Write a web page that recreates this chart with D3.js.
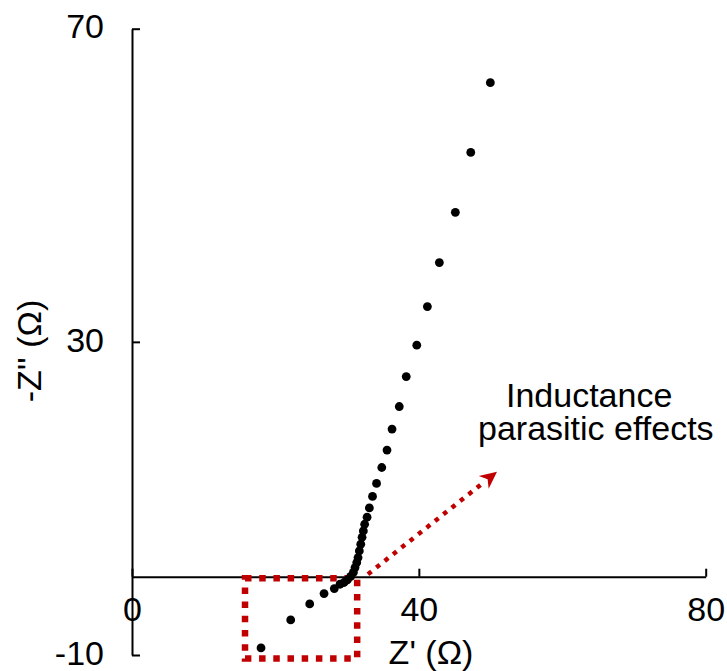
<!DOCTYPE html>
<html>
<head>
<meta charset="utf-8">
<script src="https://cdn.jsdelivr.net/npm/d3@7/dist/d3.min.js"></script>
<style>
  html, body { margin: 0; padding: 0; background: #fff; }
  svg { display: block; }
  text { font-family: "Liberation Sans", Arial, Helvetica, sans-serif; fill: #000; }
</style>
</head>
<body>
<svg id="chart" width="727" height="671"></svg>
<script>
// Nyquist plot: real part Z' vs negative imaginary part -Z''
const zReal = [17.99, 22.13, 24.78, 26.78, 28.21, 29.01, 29.57, 30.03, 30.50, 30.87,
               31.10, 31.34, 31.52, 31.70, 31.90, 32.08, 32.26, 32.44, 32.78, 33.10,
               33.54, 34.10, 34.83, 35.56, 36.26, 37.27, 38.24, 39.71, 41.19, 42.86,
               45.09, 47.24, 49.97];
const zImagNeg = [-9.09, -5.52, -3.47, -2.15, -1.51, -0.96, -0.74, -0.41, 0.03, 0.54,
                  1.17, 1.81, 2.45, 3.30, 4.15, 5.04, 5.85, 6.70, 7.60, 8.79,
                  10.26, 11.92, 13.95, 16.18, 18.86, 21.74, 25.57, 29.57, 34.51, 40.13,
                  46.55, 54.2, 63.1];
const xTicks = [0, 40, 80];
const yTicks = [-10, 30, 70];
const xTitle = "Z' (\u03A9)";
const yTitle = "-Z'' (\u03A9)";
const noteLines = ["Inductance", "parasitic effects"];

// inductive region highlighted with a dotted box, and an arrow toward the note
const boxX = [15.76, 31.4];
const boxY = [-10.45, -0.2];
const arrowFrom = [32.9, 0.32];
const arrowTo = [50.9, 13.4];

const red = "#c00000";
const svg = d3.select("#chart");

const x = d3.scaleLinear().domain([0, 80]).range([132, 705.7]);
const y = d3.scaleLinear().domain([-10, 70]).range([655, 28.7]);

const fontSize = 34;
const plainInt = d => String(Math.round(d)); // hyphen-minus for negatives

// y axis (ticks point inward)
const yAxis = svg.append("g")
  .attr("transform", `translate(${x(0)},0)`)
  .call(d3.axisLeft(y).tickValues(yTicks).tickSizeInner(-8).tickSizeOuter(0).tickPadding(28).tickFormat(plainInt));
yAxis.selectAll(".tick text").attr("dy", "0.27em");

// x axis along -Z'' = 0
const xAxis = svg.append("g")
  .attr("transform", `translate(0,${y(0)})`)
  .call(d3.axisBottom(x).tickValues(xTicks).tickSizeInner(-8).tickSizeOuter(0).tickPadding(20).tickFormat(plainInt));

[xAxis, yAxis].forEach(g => {
  g.select(".domain").attr("stroke", "#000").attr("stroke-width", 2);
  g.selectAll(".tick line").attr("stroke", "#000").attr("stroke-width", 2);
  g.selectAll(".tick text")
    .attr("fill", "#000")
    .style("font-size", fontSize + "px")
    .style("font-family", "'Liberation Sans', Arial, Helvetica, sans-serif");
});

// axis titles
svg.append("text")
  .attr("x", 431)
  .attr("y", 664)
  .attr("text-anchor", "middle")
  .style("font-size", fontSize + "px")
  .text(xTitle);

svg.append("text")
  .attr("transform", "translate(41,351) rotate(-90)")
  .attr("text-anchor", "middle")
  .style("font-size", fontSize + "px")
  .text(yTitle);

// dotted box around the inductive tail
svg.append("rect")
  .attr("x", x(boxX[0]))
  .attr("y", y(boxY[1]))
  .attr("width", x(boxX[1]) - x(boxX[0]))
  .attr("height", y(boxY[0]) - y(boxY[1]))
  .attr("fill", "none")
  .attr("stroke", red)
  .attr("stroke-width", 6.5)
  .attr("stroke-dasharray", "6.5 7.7");

// data points
svg.append("g")
  .selectAll("circle")
  .data(zReal.map((v, i) => [v, zImagNeg[i]]))
  .join("circle")
  .attr("cx", d => x(d[0]))
  .attr("cy", d => y(d[1]))
  .attr("r", 4.4)
  .attr("fill", "#000");

// dotted arrow
const ax0 = x(arrowFrom[0]), ay0 = y(arrowFrom[1]);
const ax1 = x(arrowTo[0]), ay1 = y(arrowTo[1]);
const ang = Math.atan2(ay1 - ay0, ax1 - ax0);
const headLen = 17, headHalf = 8;
const bx = ax1 - headLen * Math.cos(ang), by = ay1 - headLen * Math.sin(ang);

svg.append("line")
  .attr("x1", ax0).attr("y1", ay0)
  .attr("x2", bx + 2 * Math.cos(ang)).attr("y2", by + 2 * Math.sin(ang))
  .attr("stroke", red)
  .attr("stroke-width", 4.5)
  .attr("stroke-dasharray", "4.5 6.2");

svg.append("path")
  .attr("d", d3.line()([
    [ax1, ay1],
    [bx + headHalf * Math.sin(ang), by - headHalf * Math.cos(ang)],
    [bx + 5 * Math.cos(ang), by + 5 * Math.sin(ang)],
    [bx - headHalf * Math.sin(ang), by + headHalf * Math.cos(ang)]
  ]) + "Z")
  .attr("fill", red);

// annotation text (two lines in one text block)
const note = svg.append("text")
  .style("font-size", fontSize + "px");
note.append("tspan").attr("x", 506).attr("y", 406.7).text(noteLines[0]);
note.append("tspan").attr("x", 478).attr("y", 440).text(noteLines[1]);
</script>
</body>
</html>
